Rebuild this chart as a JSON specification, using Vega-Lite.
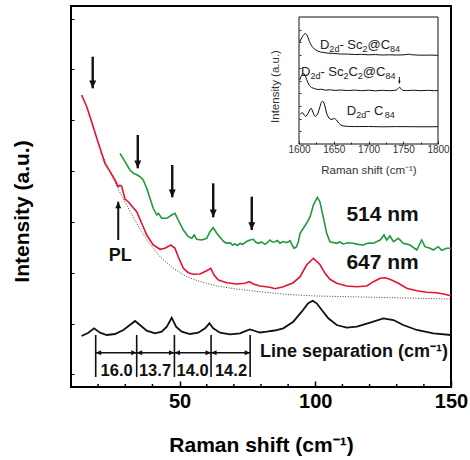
{
  "$schema": "https://vega.github.io/schema/vega-lite/v6.json",
  "autosize": {"type": "none"},
  "padding": {"left": 71, "top": 6, "right": 19, "bottom": 73},
  "width": 380,
  "height": 381,
  "config": {
    "view": {"stroke": "black", "strokeWidth": 2},
    "font": "Liberation Sans",
    "axis": {"grid": false, "domain": false, "labelFlush": false, "labelOverlap": false, "tickColor": "black"}
  },
  "datasets": {
    "red": [
      {"x":13.9,"y":292},{"x":15.8,"y":280.3},{"x":17.6,"y":265.3},{"x":19.5,"y":248.7},{"x":21.3,"y":233.7},{"x":22.5,"y":223.7},{"x":24.4,"y":215.3},{"x":26.2,"y":207},{"x":27.4,"y":200.3},{"x":28.05,"y":201.8},{"x":28.7,"y":200.5},{"x":29.5,"y":192},{"x":29.9,"y":188},{"x":31.1,"y":185.3},{"x":32.4,"y":181},{"x":34.2,"y":175.3},{"x":36.05,"y":163.7},{"x":37.9,"y":152},{"x":40.3,"y":142},{"x":42.8,"y":137.7},{"x":44.6,"y":138.7},{"x":46.8,"y":142},{"x":48.3,"y":138.7},{"x":49.5,"y":130.3},{"x":51.4,"y":118.7},{"x":53.2,"y":114.3},{"x":55.1,"y":112.7},{"x":57.5,"y":113},{"x":60.0,"y":116.3},{"x":61.5,"y":118.7},{"x":62.7,"y":112},{"x":64.3,"y":107},{"x":67.4,"y":104.3},{"x":71.05,"y":103},{"x":74.1,"y":103.7},{"x":75.7,"y":105.3},{"x":77.2,"y":103},{"x":79.6,"y":101},{"x":83.3,"y":99.7},{"x":85.2,"y":98.3},{"x":88.2,"y":100.3},{"x":91.9,"y":104.3},{"x":94.4,"y":110.3},{"x":96.8,"y":122},{"x":99.3,"y":128.7},{"x":101.7,"y":122.5},{"x":103.6,"y":113.7},{"x":105.4,"y":107.7},{"x":107.9,"y":103.7},{"x":111.6,"y":101},{"x":115.3,"y":100.3},{"x":118.95,"y":101},{"x":121.4,"y":105.3},{"x":123.9,"y":108.7},{"x":125.7,"y":109.3},{"x":127.5,"y":107.7},{"x":130.6,"y":103.7},{"x":133.7,"y":98.7},{"x":137.4,"y":96.3},{"x":141.05,"y":94.7},{"x":144.7,"y":94.3},{"x":147.2,"y":93},{"x":150,"y":91.3}
    ],
    "green": [
      {"x":28.05,"y":233.7},{"x":29.9,"y":225.3},{"x":31.7,"y":217},{"x":33.0,"y":213.7},{"x":34.4,"y":212},{"x":35.4,"y":210.3},{"x":36.6,"y":207},{"x":37.9,"y":198.7},{"x":39.1,"y":188.7},{"x":40.3,"y":178.7},{"x":41.6,"y":172},{"x":42.2,"y":173.7},{"x":43.4,"y":168.7},{"x":45.3,"y":168.7},{"x":47.1,"y":172},{"x":48.3,"y":173.7},{"x":49.5,"y":167},{"x":51.4,"y":157},{"x":53.2,"y":150.3},{"x":54.5,"y":148.7},{"x":55.4,"y":152},{"x":56.3,"y":147.7},{"x":58.2,"y":147},{"x":60.0,"y":148.7},{"x":61.2,"y":155.3},{"x":62.4,"y":159.3},{"x":63.7,"y":153.7},{"x":65.5,"y":147.7},{"x":66.5,"y":145},{"x":67.4,"y":143.7},{"x":68.6,"y":144.3},{"x":69.5,"y":142},{"x":70.4,"y":143},{"x":71.3,"y":141.5},{"x":72.3,"y":143.7},{"x":73.2,"y":142.5},{"x":74.1,"y":144.3},{"x":75,"y":146},{"x":76.0,"y":147},{"x":77.2,"y":147.7},{"x":78,"y":145},{"x":79.0,"y":143.7},{"x":80.2,"y":145},{"x":81.5,"y":142.7},{"x":82.4,"y":144.5},{"x":83.3,"y":147},{"x":84.2,"y":145},{"x":85.2,"y":145.3},{"x":86,"y":146.5},{"x":87.0,"y":143.7},{"x":88.2,"y":145.5},{"x":89.5,"y":144.3},{"x":90.7,"y":146.3},{"x":91.5,"y":142},{"x":92.2,"y":138.7},{"x":93.0,"y":140},{"x":93.75,"y":145},{"x":94.4,"y":153.7},{"x":95.6,"y":158.7},{"x":96.8,"y":163.7},{"x":98.1,"y":170.3},{"x":99.3,"y":182},{"x":100.75,"y":189.7},{"x":101.7,"y":185.3},{"x":102.9,"y":170.3},{"x":104.2,"y":153.7},{"x":105.4,"y":145.3},{"x":106.6,"y":144.5},{"x":107.9,"y":143.7},{"x":109,"y":145},{"x":110.3,"y":143},{"x":112,"y":144.2},{"x":114.0,"y":143.7},{"x":115.8,"y":142.6},{"x":117.7,"y":142},{"x":119.5,"y":144},{"x":121.4,"y":143.7},{"x":123.9,"y":147},{"x":125.3,"y":152},{"x":126.3,"y":147},{"x":127.5,"y":151},{"x":128.8,"y":145.3},{"x":130.6,"y":148.7},{"x":132.4,"y":143.7},{"x":134.9,"y":142},{"x":137.4,"y":137},{"x":139.2,"y":147},{"x":140.4,"y":140.3},{"x":142.3,"y":138.7},{"x":143.5,"y":137},{"x":145.3,"y":140.3},{"x":146.6,"y":136.7},{"x":148.4,"y":138.7},{"x":150,"y":138.7}
    ],
    "dotted": [
      {"x":21,"y":235},{"x":24.4,"y":215},{"x":27,"y":200},{"x":28.7,"y":191},{"x":30.5,"y":182},{"x":34.2,"y":163.7},{"x":37.9,"y":147},{"x":42.8,"y":130.3},{"x":47.7,"y":118.7},{"x":52.6,"y":110.3},{"x":57.5,"y":105.5},{"x":63.7,"y":101},{"x":71,"y":98},{"x":79.6,"y":95.3},{"x":89.5,"y":92.5},{"x":100.5,"y":91},{"x":125,"y":89.5},{"x":150,"y":88}
    ],
    "fit": [
      {"x":13.9,"y":51},{"x":16.4,"y":54.3},{"x":18.5,"y":58.7},{"x":20.7,"y":54.3},{"x":23.2,"y":52},{"x":26.2,"y":53},{"x":29.3,"y":57},{"x":31.7,"y":62},{"x":33.6,"y":66},{"x":35.4,"y":62},{"x":37.9,"y":56.3},{"x":40.95,"y":53.7},{"x":43.4,"y":55.3},{"x":45.3,"y":60.3},{"x":47.1,"y":69.3},{"x":48.7,"y":60.3},{"x":50.8,"y":55.3},{"x":53.8,"y":53},{"x":56.9,"y":54.3},{"x":59.4,"y":58.7},{"x":61.0,"y":63.7},{"x":62.4,"y":58.7},{"x":64.9,"y":54.3},{"x":68.6,"y":52.7},{"x":72.3,"y":53.7},{"x":74.7,"y":56.3},{"x":75.95,"y":57.5},{"x":77.8,"y":56},{"x":79.6,"y":54.5},{"x":82.1,"y":55.3},{"x":85,"y":56.5},{"x":88.2,"y":58.7},{"x":91.9,"y":65.3},{"x":95.0,"y":75.3},{"x":97.4,"y":83.7},{"x":99.05,"y":86.3},{"x":100.5,"y":83.7},{"x":102.4,"y":77},{"x":104.8,"y":68.7},{"x":107.9,"y":62},{"x":111.6,"y":59.3},{"x":115.3,"y":60.3},{"x":120.2,"y":64.3},{"x":125.1,"y":68.7},{"x":128.8,"y":67},{"x":132.4,"y":62},{"x":137.4,"y":57},{"x":143.5,"y":53.7},{"x":150,"y":52}
    ],
    "minorTicks": [
      {"x":20},{"x":30},{"x":40},{"x":60},{"x":70},{"x":80},{"x":90},{"x":110},{"x":120},{"x":130},{"x":140}
    ],
    "downArrows": [
      {"x":18.0,"y1":330.3,"y2":298.7},{"x":34.6,"y1":252,"y2":218.7},{"x":47.3,"y1":222,"y2":189.7},{"x":62.4,"y1":203.7,"y2":169.7},{"x":76.6,"y1":190.3,"y2":157}
    ],
    "plArrow": [{"x":27.4,"y1":147,"y2":185.3}],
    "sepLines": [
      {"x":19.1,"y1":52,"y2":10},{"x":34.2,"y1":52,"y2":10},{"x":48.1,"y1":52,"y2":10},{"x":61.6,"y1":52,"y2":10},{"x":76.0,"y1":52,"y2":10}
    ],
    "sepSegments": [
      {"x1":19.1,"x2":34.2,"y":34.3},{"x1":34.2,"x2":48.1,"y":34.3},{"x1":48.1,"x2":61.6,"y":34.3},{"x1":61.6,"x2":76.0,"y":34.3}
    ],
    "sepNumbers": [
      {"x":26.8,"y":16,"t":"16.0"},{"x":40.95,"y":16,"t":"13.7"},{"x":54.8,"y":16,"t":"14.0"},{"x":68.95,"y":16,"t":"14.2"}
    ],
    "bigLabels": [
      {"x":124.8,"y":172,"t":"514 nm"},{"x":124.8,"y":124.5,"t":"647 nm"}
    ],
    "plLabel": [{"x":28.1,"y":131,"t":"PL"}],
    "lsLabel": [{"x":148.9,"y":35,"t":"Line separation (cm⁻¹)"}],
    "s1": [
      {"x":1601,"y":102},{"x":1603,"y":105},{"x":1605,"y":107.5},{"x":1607,"y":109.5},{"x":1609,"y":110.5},{"x":1611,"y":109.5},{"x":1613,"y":106.5},{"x":1615,"y":102.5},{"x":1617,"y":99.5},{"x":1620,"y":96.5},{"x":1623,"y":94.5},{"x":1627,"y":93},{"x":1631,"y":92},{"x":1636,"y":91.5},{"x":1642,"y":90.8},{"x":1650,"y":90.6},{"x":1660,"y":90},{"x":1670,"y":89.9},{"x":1680,"y":89.5},{"x":1690,"y":89.6},{"x":1700,"y":89.2},{"x":1710,"y":89.4},{"x":1720,"y":89},{"x":1730,"y":89.2},{"x":1740,"y":89},{"x":1750,"y":89.1},{"x":1758,"y":89.8},{"x":1762,"y":89.3},{"x":1770,"y":88.9},{"x":1780,"y":88.8},{"x":1790,"y":88.9},{"x":1800,"y":88.7}
    ],
    "s2": [
      {"x":1601,"y":64},{"x":1603,"y":67.5},{"x":1605,"y":70},{"x":1607,"y":70.5},{"x":1609,"y":68.5},{"x":1611,"y":64.5},{"x":1613,"y":61},{"x":1615,"y":58.5},{"x":1618,"y":56.5},{"x":1622,"y":55.5},{"x":1627,"y":54.5},{"x":1632,"y":54.8},{"x":1638,"y":53.8},{"x":1645,"y":54.2},{"x":1652,"y":53.6},{"x":1660,"y":54},{"x":1670,"y":53.4},{"x":1680,"y":53.9},{"x":1690,"y":53.3},{"x":1700,"y":53.8},{"x":1710,"y":53.2},{"x":1720,"y":53.7},{"x":1730,"y":53.3},{"x":1738,"y":53.6},{"x":1741,"y":54.3},{"x":1743,"y":55.8},{"x":1745,"y":56.8},{"x":1747,"y":55},{"x":1749,"y":53.6},{"x":1755,"y":53.4},{"x":1765,"y":53.8},{"x":1775,"y":53.3},{"x":1785,"y":53.7},{"x":1795,"y":53.3},{"x":1800,"y":53.5}
    ],
    "s3": [
      {"x":1602,"y":30},{"x":1605,"y":31.5},{"x":1608,"y":28.5},{"x":1610,"y":27.5},{"x":1613,"y":30.5},{"x":1616,"y":35},{"x":1618,"y":35.5},{"x":1620,"y":32},{"x":1622,"y":28.5},{"x":1624,"y":27.5},{"x":1627,"y":30},{"x":1630,"y":37},{"x":1632,"y":41.5},{"x":1634,"y":43},{"x":1636,"y":41},{"x":1638,"y":36},{"x":1640,"y":30},{"x":1643,"y":26},{"x":1646,"y":24.5},{"x":1649,"y":25},{"x":1651,"y":25.7},{"x":1654,"y":24},{"x":1657,"y":21},{"x":1660,"y":19},{"x":1664,"y":18},{"x":1670,"y":17.6},{"x":1680,"y":17.4},{"x":1700,"y":17.5},{"x":1720,"y":17.2},{"x":1740,"y":17.4},{"x":1760,"y":17.3},{"x":1780,"y":17.2},{"x":1800,"y":17.3}
    ],
    "insetArrow": [{"x":1744.4,"y1":67,"y2":60.5}],
    "insetText": [
      {"x":1630.2,"y":94.7,"t":"D","sub":false},{"x":1643.7,"y":94.7,"t":"2d","sub":true},{"x":1658.1,"y":94.7,"t":"- Sc","sub":false},{"x":1691.4,"y":94.7,"t":"2","sub":true},{"x":1698.6,"y":94.7,"t":"@C","sub":false},{"x":1731.1,"y":94.7,"t":"84","sub":true},
      {"x":1602.9,"y":67.7,"t":"D","sub":false},{"x":1616.4,"y":67.7,"t":"2d","sub":true},{"x":1630.8,"y":67.7,"t":"- Sc","sub":false},{"x":1664.0,"y":67.7,"t":"2","sub":true},{"x":1671.2,"y":67.7,"t":"C","sub":false},{"x":1684.7,"y":67.7,"t":"2","sub":true},{"x":1691.9,"y":67.7,"t":"@C","sub":false},{"x":1724.5,"y":67.7,"t":"84","sub":true},
      {"x":1668.6,"y":28.7,"t":"D","sub":false},{"x":1682.2,"y":28.7,"t":"2d","sub":true},{"x":1696.5,"y":28.7,"t":"\u00a0- C","sub":false},{"x":1723.5,"y":28.7,"t":"84","sub":true}
    ]
  },
  "layer": [
    {
      "layer": [
        {
          "data": {"name": "dotted"},
          "mark": {"type": "line", "color": "#444", "strokeWidth": 1, "strokeDash": [1, 1.6]},
          "encoding": {
            "x": {"field": "x", "type": "quantitative", "scale": {"domain": [10, 150], "nice": false, "zero": false},
              "axis": {
                "orient": "bottom",
                "values": [50, 100, 150],
                "format": "d",
                "labelOverlap": false, "labelFlush": false,
                "tickSize": -6,
                "tickWidth": 1.5,
                "labelFontSize": 20, "labelFontWeight": "bold", "labelColor": "black", "labelPadding": 10,
                "title": "Raman shift (cm⁻¹)", "titleFontSize": 21, "titleFontWeight": "bold", "titleColor": "black",
                "titleY": 58, "titleBaseline": "middle"
              }},
            "y": {"field": "y", "type": "quantitative", "scale": {"domain": [0, 381], "nice": false, "zero": false},
              "axis": {
                "orient": "left",
                "values": [12.7,25.4,38.1,50.8,63.5,76.2,88.9,101.6,114.3,127,139.7,152.4,165.1,177.8,190.5,203.2,215.9,228.6,241.3,254,266.7,279.4,292.1,304.8,317.5,330.2,342.9,355.6,368.3],
                "labels": false, "tickSize": -3, "tickWidth": 1,
                "title": "Intensity (a.u.)", "titleFontSize": 21, "titleFontWeight": "bold", "titleColor": "black",
                "titleX": -49, "titleY": 205, "titleAngle": -90, "titleAlign": "center", "titleBaseline": "middle"
              }}
          }
        },
        {
          "data": {"name": "minorTicks"},
          "mark": {"type": "rule", "color": "black", "strokeWidth": 1.5},
          "encoding": {"x": {"field": "x", "type": "quantitative"}, "y": {"datum": 0, "type": "quantitative"}, "y2": {"datum": 3}}
        },
        {
          "data": {"name": "fit"},
          "mark": {"type": "line", "color": "#111", "strokeWidth": 1.8},
          "encoding": {"x": {"field": "x", "type": "quantitative"}, "y": {"field": "y", "type": "quantitative"}}
        },
        {
          "data": {"name": "red"},
          "mark": {"type": "line", "color": "#e8112d", "strokeWidth": 1.6},
          "encoding": {"x": {"field": "x", "type": "quantitative"}, "y": {"field": "y", "type": "quantitative"}}
        },
        {
          "data": {"name": "green"},
          "mark": {"type": "line", "color": "#1e9a3a", "strokeWidth": 1.6},
          "encoding": {"x": {"field": "x", "type": "quantitative"}, "y": {"field": "y", "type": "quantitative"}}
        },
        {
          "data": {"name": "downArrows"},
          "mark": {"type": "rule", "color": "#111", "strokeWidth": 2.4},
          "encoding": {"x": {"field": "x", "type": "quantitative"}, "y": {"field": "y1", "type": "quantitative"}, "y2": {"field": "y2"}}
        },
        {
          "data": {"name": "downArrows"},
          "mark": {"type": "point", "shape": "M0,0L-1,-2.2L1,-2.2Z", "filled": true, "color": "#111", "opacity": 1, "size": 49},
          "encoding": {"x": {"field": "x", "type": "quantitative"}, "y": {"field": "y2", "type": "quantitative"}}
        },
        {
          "data": {"name": "plArrow"},
          "mark": {"type": "rule", "color": "#111", "strokeWidth": 2},
          "encoding": {"x": {"field": "x", "type": "quantitative"}, "y": {"field": "y1", "type": "quantitative"}, "y2": {"field": "y2"}}
        },
        {
          "data": {"name": "plArrow"},
          "mark": {"type": "point", "shape": "M0,0L-1,2.2L1,2.2Z", "filled": true, "color": "#111", "opacity": 1, "size": 36},
          "encoding": {"x": {"field": "x", "type": "quantitative"}, "y": {"field": "y2", "type": "quantitative"}}
        },
        {
          "data": {"name": "sepLines"},
          "mark": {"type": "rule", "color": "#111", "strokeWidth": 1.6},
          "encoding": {"x": {"field": "x", "type": "quantitative"}, "y": {"field": "y1", "type": "quantitative"}, "y2": {"field": "y2"}}
        },
        {
          "data": {"name": "sepSegments"},
          "mark": {"type": "rule", "color": "#111", "strokeWidth": 1.4},
          "encoding": {"x": {"field": "x1", "type": "quantitative"}, "x2": {"field": "x2"}, "y": {"field": "y", "type": "quantitative"}}
        },
        {
          "data": {"name": "sepSegments"},
          "mark": {"type": "point", "shape": "M0,0L2.2,-1L2.2,1Z", "filled": true, "color": "#111", "opacity": 1, "size": 25},
          "encoding": {"x": {"field": "x1", "type": "quantitative"}, "y": {"field": "y", "type": "quantitative"}}
        },
        {
          "data": {"name": "sepSegments"},
          "mark": {"type": "point", "shape": "M0,0L-2.2,-1L-2.2,1Z", "filled": true, "color": "#111", "opacity": 1, "size": 25},
          "encoding": {"x": {"field": "x2", "type": "quantitative"}, "y": {"field": "y", "type": "quantitative"}}
        },
        {
          "data": {"name": "sepNumbers"},
          "mark": {"type": "text", "fontSize": 16.5, "fontWeight": "bold", "color": "#111", "align": "center", "baseline": "middle"},
          "encoding": {"x": {"field": "x", "type": "quantitative"}, "y": {"field": "y", "type": "quantitative"}, "text": {"field": "t"}}
        },
        {
          "data": {"name": "bigLabels"},
          "mark": {"type": "text", "fontSize": 21, "fontWeight": "bold", "color": "#111", "align": "center", "baseline": "middle"},
          "encoding": {"x": {"field": "x", "type": "quantitative"}, "y": {"field": "y", "type": "quantitative"}, "text": {"field": "t"}}
        },
        {
          "data": {"name": "plLabel"},
          "mark": {"type": "text", "fontSize": 18, "fontWeight": "bold", "color": "#111", "align": "center", "baseline": "middle"},
          "encoding": {"x": {"field": "x", "type": "quantitative"}, "y": {"field": "y", "type": "quantitative"}, "text": {"field": "t"}}
        },
        {
          "data": {"name": "lsLabel"},
          "mark": {"type": "text", "fontSize": 18, "fontWeight": "bold", "color": "#111", "align": "right", "baseline": "middle"},
          "encoding": {"x": {"field": "x", "type": "quantitative"}, "y": {"field": "y", "type": "quantitative"}, "text": {"field": "t"}}
        }
      ]
    },
    {
      "layer": [
        {
          "data": {"name": "s1"},
          "mark": {"type": "line", "color": "#111", "strokeWidth": 1},
          "encoding": {
            "x": {"field": "x", "type": "quantitative", "scale": {"domain": [1600, 1800], "range": [228, 367], "nice": false, "zero": false},
              "axis": {
                "orient": "bottom", "offset": -243,
                "values": [1600,1625,1650,1675,1700,1725,1750,1775,1800],
                "format": "d",
                "labelExpr": "datum.value % 50 === 0 ? datum.label : ''",
                "labelOverlap": false, "labelFlush": false,
                "tickSize": {"condition": {"test": "datum.value % 50 === 0", "value": -3}, "value": -2},
                "tickWidth": 0.8,
                "labelFontSize": 10, "labelColor": "#333", "labelPadding": 3, "labelFontWeight": "normal",
                "title": "Raman shift (cm⁻¹)", "titleFontSize": 11.5, "titleFontWeight": "normal", "titleColor": "#333",
                "titleY": 26, "titleBaseline": "middle"
              }},
            "y": {"field": "y", "type": "quantitative", "scale": {"domain": [0, 127], "range": [138, 11], "nice": false, "zero": false},
              "axis": {
                "orient": "left", "offset": -228,
                "values": [12.7,25.4,38.1,50.8,63.5,76.2,88.9,101.6,114.3],
                "labels": false, "tickSize": -2, "tickWidth": 0.8,
                "title": "Intensity (a.u.)", "titleFontSize": 11.5, "titleFontWeight": "normal", "titleColor": "#333",
                "titleX": -24, "titleY": 80, "titleAngle": -90, "titleAlign": "center", "titleBaseline": "middle"
              }}
          }
        },
        {
          "data": {"name": "s2"},
          "mark": {"type": "line", "color": "#111", "strokeWidth": 1},
          "encoding": {"x": {"field": "x", "type": "quantitative"}, "y": {"field": "y", "type": "quantitative"}}
        },
        {
          "data": {"name": "s3"},
          "mark": {"type": "line", "color": "#111", "strokeWidth": 1},
          "encoding": {"x": {"field": "x", "type": "quantitative"}, "y": {"field": "y", "type": "quantitative"}}
        },
        {
          "data": {"values": [{}]},
          "mark": {"type": "rect", "fill": null, "fillOpacity": 0, "stroke": "#111", "strokeWidth": 1},
          "encoding": {
            "x": {"datum": 1600, "type": "quantitative"}, "x2": {"datum": 1800},
            "y": {"datum": 0, "type": "quantitative"}, "y2": {"datum": 127}
          }
        },
        {
          "data": {"name": "insetArrow"},
          "mark": {"type": "rule", "color": "#111", "strokeWidth": 1},
          "encoding": {"x": {"field": "x", "type": "quantitative"}, "y": {"field": "y1", "type": "quantitative"}, "y2": {"field": "y2"}}
        },
        {
          "data": {"name": "insetArrow"},
          "mark": {"type": "point", "shape": "M0,0L-1,-2.2L1,-2.2Z", "filled": true, "color": "#111", "opacity": 1, "size": 6},
          "encoding": {"x": {"field": "x", "type": "quantitative"}, "y": {"field": "y2", "type": "quantitative"}}
        },
        {
          "data": {"name": "insetText"},
          "transform": [{"filter": "!datum.sub"}],
          "mark": {"type": "text", "fontSize": 13, "color": "#222", "align": "left", "baseline": "alphabetic"},
          "encoding": {"x": {"field": "x", "type": "quantitative"}, "y": {"field": "y", "type": "quantitative"}, "text": {"field": "t"}}
        },
        {
          "data": {"name": "insetText"},
          "transform": [{"filter": "datum.sub"}],
          "mark": {"type": "text", "fontSize": 9, "color": "#222", "align": "left", "baseline": "alphabetic", "dy": 3},
          "encoding": {"x": {"field": "x", "type": "quantitative"}, "y": {"field": "y", "type": "quantitative"}, "text": {"field": "t"}}
        }
      ]
    }
  ],
  "resolve": {"scale": {"x": "independent", "y": "independent"}}
}
